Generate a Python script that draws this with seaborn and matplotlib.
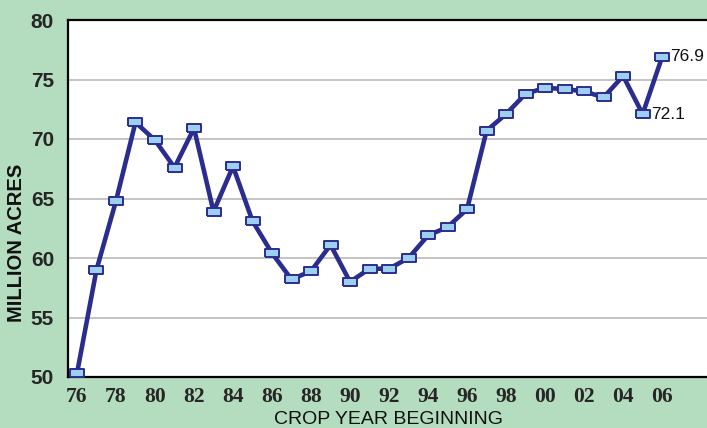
import matplotlib
matplotlib.use("Agg")
import matplotlib.pyplot as plt
import seaborn as sns
import pandas as pd
from matplotlib.ticker import FixedLocator

# data
years = list(range(1976, 2007))
acres = [50.3, 59.0, 64.8, 71.4, 69.9, 67.6, 70.9, 63.9, 67.7, 63.1,
         60.4, 58.2, 58.9, 61.1, 58.0, 59.1, 59.1, 60.0, 61.9, 62.6,
         64.1, 70.7, 72.1, 73.8, 74.3, 74.2, 74.0, 73.5, 75.3, 72.1, 76.9]
label_years = list(range(1976, 2007, 2))
y_ticks = [50, 55, 60, 65, 70, 75, 80]
callouts = {2005: "72.1", 2006: "76.9"}

bg = "#b4dcbe"
navy = "#2b2d8e"
light_blue = "#9dcff0"

df = pd.DataFrame({"year": years, "acres": acres})

sns.set_style("white")
plt.rcParams["font.family"] = ["Liberation Sans", "DejaVu Sans"]

fig = plt.figure(figsize=(7.07, 4.28), dpi=100, facecolor=bg)
ax = fig.add_axes([68 / 707, 1 - 377 / 428, 1 - 68 / 707, (377 - 20) / 428])
ax.set_facecolor("white")

rect = [(-1.5, -1), (1.5, -1), (1.5, 1), (-1.5, 1), (-1.5, -1)]
sns.lineplot(data=df, x="year", y="acres", ax=ax, color=navy, linewidth=3.3,
             marker=rect, markersize=9.5, markerfacecolor=light_blue,
             markeredgecolor=navy, markeredgewidth=1.4, zorder=3)

for yr, txt in callouts.items():
    v = acres[years.index(yr)]
    ax.annotate(txt, (yr, v), xytext=(6, 0), textcoords="offset points",
                ha="left", va="center", fontsize=12.5, color="#111111")

ax.set_xlim(1975.54, 2008.3)
ax.set_ylim(50, 80)
ax.set_yticks(y_ticks)
ax.set_yticklabels([str(t) for t in y_ticks], fontsize=15, fontweight="bold")
ax.yaxis.grid(True, color="#c4c4c4", linewidth=1.4)
ax.tick_params(axis="y", length=7, width=1.2, color="#b0b0b0", pad=3)

ax.set_xticks(label_years)
ax.set_xticklabels([f"{y % 100:02d}" for y in label_years],
                   fontsize=15.5, fontweight="bold", family="Liberation Serif")
ax.xaxis.set_minor_locator(FixedLocator(list(range(1976, 2009))))
ax.tick_params(axis="x", which="both", direction="in", length=6, width=1.2,
               color="#333333", pad=7)

for side in ["left", "bottom", "top"]:
    ax.spines[side].set_color("black")
    ax.spines[side].set_linewidth(1.6)
ax.spines["right"].set_visible(False)

ax.set_xlabel("")
ax.set_ylabel("")
fig.text(388 / 707, 1 - 419 / 428, "CROP YEAR BEGINNING", ha="center",
         va="center", fontsize=14, color="#111111")
fig.text(17 / 707, 1 - 243 / 428, "MILLION ACRES", ha="center", va="center",
         rotation=90, fontsize=14.5, fontweight="bold", color="#111111")

fig.savefig("out.png", dpi=100, facecolor=bg)
